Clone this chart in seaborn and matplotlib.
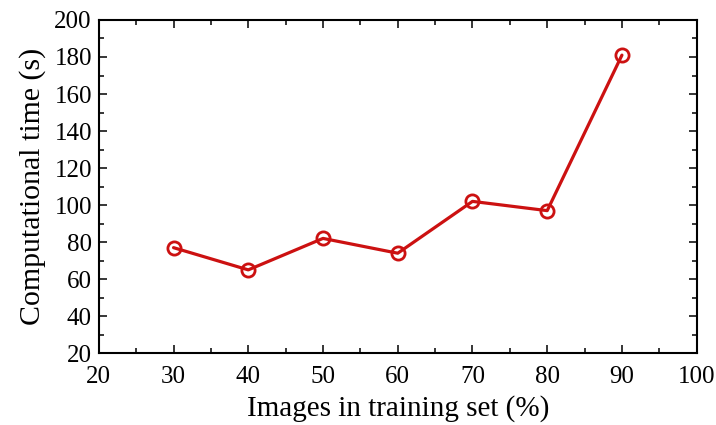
import pandas as pd
import matplotlib.pyplot as plt
import seaborn as sns
from matplotlib.ticker import MultipleLocator

# values
train_pct = [30, 40, 50, 60, 70, 80, 90]
comp_time = [77, 65, 82, 74, 102, 97, 181]

df = pd.DataFrame({"pct": train_pct, "time": comp_time})

sns.set_theme(style="ticks")
plt.rcParams['font.family'] = ['Liberation Serif', 'DejaVu Serif']

fig = plt.figure(figsize=(7.16, 4.25), dpi=100)
ax = fig.add_axes([0.138, 0.169, 0.835, 0.784])

sns.lineplot(data=df, x="pct", y="time", ax=ax, color="#cc1111", linewidth=2.3,
             marker="o", markersize=9.5, markerfacecolor="none",
             markeredgecolor="#cc1111", markeredgewidth=2)

ax.set_xlim(20, 100)
ax.set_ylim(20, 200)
ax.xaxis.set_major_locator(MultipleLocator(10))
ax.xaxis.set_minor_locator(MultipleLocator(5))
ax.yaxis.set_major_locator(MultipleLocator(20))
ax.yaxis.set_minor_locator(MultipleLocator(10))
ax.tick_params(which="both", direction="in", top=True, right=True, width=1.1,
               colors="black", labelcolor="black")
ax.tick_params(which="major", length=6, labelsize=18)
ax.tick_params(axis="x", which="major", pad=9)
ax.tick_params(axis="y", which="major", pad=5)
ax.tick_params(which="minor", length=3.5)
for sp in ax.spines.values():
    sp.set_linewidth(1.5)
    sp.set_color("black")

ax.set_xlabel("Images in training set (%)", fontsize=21, labelpad=5, color="black")
ax.set_ylabel("Computational time (s)", fontsize=21.5, labelpad=6, color="black")

fig.savefig("out.png", dpi=100)
